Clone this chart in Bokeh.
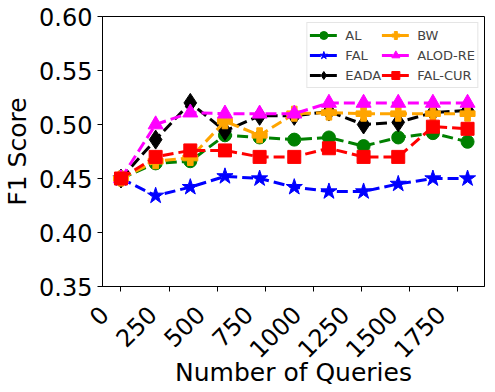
import math
from bokeh.plotting import figure
from bokeh.models import Range1d, FixedTicker, PrintfTickFormatter, Legend, LegendItem
from bokeh.embed import file_html
from bokeh.resources import INLINE

queries = [0, 180, 360, 540, 720, 900, 1080, 1260, 1440, 1620, 1800]
al = [0.45, 0.464, 0.466, 0.490, 0.488, 0.486, 0.488, 0.480, 0.488, 0.492, 0.484]
fal = [0.45, 0.434, 0.442, 0.452, 0.450, 0.442, 0.438, 0.438, 0.445, 0.450, 0.450]
eada = [0.45, 0.486, 0.520, 0.494, 0.508, 0.508, 0.512, 0.500, 0.502, 0.511, 0.513]
bw = [0.45, 0.466, 0.469, 0.503, 0.490, 0.510, 0.511, 0.510, 0.510, 0.510, 0.510]
alod_re = [0.45, 0.500, 0.511, 0.510, 0.510, 0.510, 0.520, 0.520, 0.520, 0.520, 0.520]
fal_cur = [0.45, 0.470, 0.476, 0.476, 0.470, 0.470, 0.478, 0.470, 0.470, 0.498, 0.496]
x_ticks = [0, 250, 500, 750, 1000, 1250, 1500, 1750]
y_ticks = [0.35, 0.40, 0.45, 0.50, 0.55, 0.60]

series = [
    ("AL", al, "green", "circle", 13),
    ("FAL", fal, "blue", "star", 17),
    ("EADA", eada, "black", "diamond", 19),
    ("BW", bw, "orange", "plus", 15),
    ("ALOD-RE", alod_re, "magenta", "triangle", 15),
    ("FAL-CUR", fal_cur, "red", "square", 13),
]

p = figure(width=486, height=389, output_backend="svg", toolbar_location=None,
           x_range=Range1d(-96, 1888), y_range=Range1d(0.35, 0.60),
           min_border_left=95, min_border_right=2, min_border_top=16, min_border_bottom=10)
p.xgrid.visible = False
p.ygrid.visible = False
p.outline_line_color = "black"
p.outline_line_width = 1
p.background_fill_color = "white"
p.border_fill_color = "white"

items = {}
for name, vals, color, marker, size in series:
    r1 = p.line(queries, vals, line_color=color, line_width=3, line_dash="11 5")
    r2 = p.scatter(queries, vals, marker=marker, size=size, fill_color=color, line_color=color)
    items[name] = [r1, r2]

for ax in (p.xaxis[0], p.yaxis[0]):
    ax.major_label_text_font = "DejaVu Sans"
    ax.major_label_text_font_size = "24px"
    ax.major_label_text_color = "black"
    ax.axis_label_text_font = "DejaVu Sans"
    ax.axis_label_text_font_size = "25px"
    ax.axis_label_text_font_style = "normal"
    ax.axis_label_text_color = "black"
    ax.axis_line_color = "black"
    ax.major_tick_line_color = "black"
    ax.major_tick_out = 5
    ax.major_tick_in = 0
    ax.minor_tick_line_color = None

p.xaxis[0].ticker = FixedTicker(ticks=x_ticks)
p.xaxis[0].major_label_orientation = math.pi / 4
p.xaxis[0].formatter = PrintfTickFormatter(format="%d\u00a0\u00a0\u00a0")
p.xaxis[0].major_label_standoff = 3
p.xaxis[0].axis_label = "Number of Queries"
p.xaxis[0].axis_label_standoff = -19
p.yaxis[0].ticker = FixedTicker(ticks=y_ticks)
p.yaxis[0].formatter = PrintfTickFormatter(format="%.2f")
p.yaxis[0].axis_label = "F1 Score"
p.yaxis[0].axis_label_standoff = 4

order = ["AL", "FAL", "EADA", "BW", "ALOD-RE", "FAL-CUR"]
legend = Legend(items=[LegendItem(label=n, renderers=items[n]) for n in order],
                location="top_right", ncols=2,
                label_text_font="DejaVu Sans", label_text_font_size="13px",
                glyph_width=28, glyph_height=20, spacing=0, padding=2, margin=6,
                border_line_color="#cccccc", background_fill_alpha=0.8,
                label_standoff=8, label_height=18)
p.add_layout(legend)

open("out.html", "w").write(file_html(p, INLINE))
